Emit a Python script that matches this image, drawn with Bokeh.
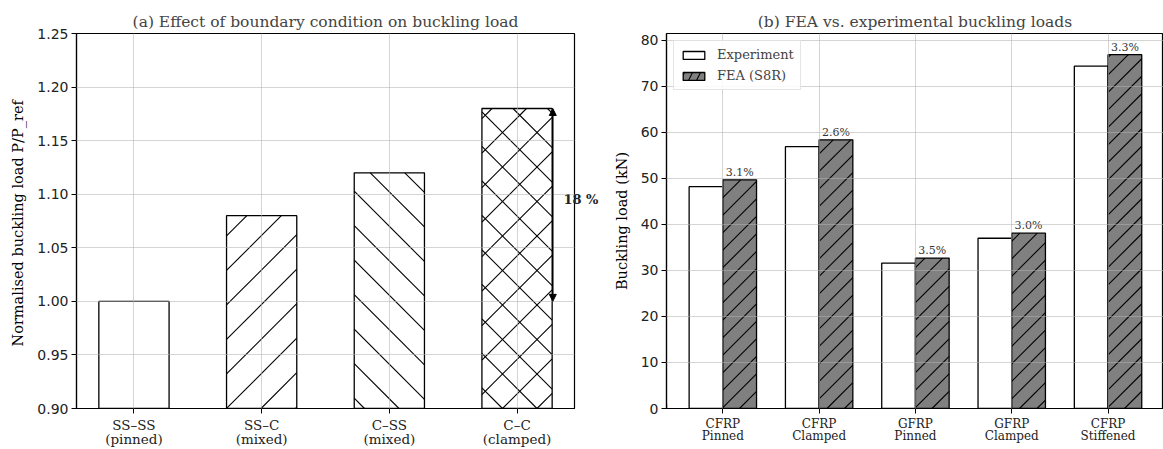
import math
from bokeh.plotting import figure
from bokeh.models import (ColumnDataSource, FixedTicker, Range1d, Arrow, NormalHead,
                          Legend, LegendItem, PrintfTickFormatter, LinearAxis)
from bokeh.layouts import row
from bokeh.embed import file_html
from bokeh.resources import INLINE
from bokeh.core.properties import value

# ---------------- data ----------------
bc_names = ["SS\u2013SS\n(pinned)", "SS\u2013C\n(mixed)", "C\u2013SS\n(mixed)", "C\u2013C\n(clamped)"]
bc_ratio = [1.00, 1.08, 1.12, 1.18]
bc_yticks = [0.90, 0.95, 1.00, 1.05, 1.10, 1.15, 1.20, 1.25]
bc_increase = "18 %"

spec_names = ["CFRP\nPinned", "CFRP\nClamped", "GFRP\nPinned", "GFRP\nClamped", "CFRP\nStiffened"]
exp_kN = [48.2, 56.9, 31.6, 37.0, 74.4]
fea_kN = [49.7, 58.4, 32.7, 38.1, 76.9]
fea_diff = ["3.1%", "2.6%", "3.5%", "3.0%", "3.3%"]
load_yticks = [0, 10, 20, 30, 40, 50, 60, 70, 80]

# ---------------- styles / layout ----------------
SERIF = "DejaVu Serif"
SANS = "DejaVu Sans"
W1, W2, H = 607, 556, 449
BT, BB = 33, 41                      # top / bottom borders
bc_hatch = ["", "/", "\\", "x"]
X1R = (-0.45, 3.45)
Y1R = (0.90, 1.25)
X2R = (-0.585, -0.585 + 497 / 96.3)
Y2R = (0.0, 81.5)


def hatch_lines(xc, w, y0, y1, xr, yr, sx, sy, sp, kind, phase=0.0):
    """45-degree hatch segments (matplotlib-like) clipped to one bar, in data units."""
    out = ([], [], [], [])
    if not kind:
        return out
    X0 = (xc - w / 2 - xr[0]) * sx
    X1 = (xc + w / 2 - xr[0]) * sx
    Y0 = (y0 - yr[0]) * sy
    Y1 = (y1 - yr[0]) * sy
    fams = {"/": [1], "\\": [-1], "x": [1, -1]}[kind]
    for s in fams:
        if s == 1:
            dmin, dmax = X0 - Y1, X1 - Y0
        else:
            dmin, dmax = X0 + Y0, X1 + Y1
        for k in range(math.floor((dmin - phase) / sp), math.ceil((dmax - phase) / sp) + 1):
            d = phase + k * sp
            if s == 1:
                xa, xb = max(X0, d + Y0), min(X1, d + Y1)
                ya, yb = xa - d, xb - d
            else:
                xa, xb = max(X0, d - Y1), min(X1, d - Y0)
                ya, yb = d - xa, d - xb
            if xb - xa > 0.5:
                out[0].append(xa / sx + xr[0])
                out[1].append(ya / sy + yr[0])
                out[2].append(xb / sx + xr[0])
                out[3].append(yb / sy + yr[0])
    return out


def common(p, xfont):
    p.title.text_font = SERIF
    p.title.text_font_size = "15.5px"
    p.title.text_font_style = "normal"
    p.title.align = "center"
    p.title.standoff = 5
    p.outline_line_color = "black"
    p.outline_line_width = 1.2
    for ax in (p.xaxis[0], p.yaxis[0]):
        ax.axis_line_color = "black"
        ax.axis_line_width = 1.2
        ax.major_tick_line_color = "black"
        ax.major_tick_out = 5
        ax.major_tick_in = 0
        ax.minor_tick_line_color = None
        ax.axis_label_text_font = SERIF
        ax.axis_label_text_font_style = "normal"
        ax.axis_label_text_font_size = "14.5px"
        ax.axis_label_text_color = "black"
        ax.axis_label_standoff = 8
    p.xaxis.major_label_text_font = SERIF
    p.xaxis.major_label_text_font_size = xfont
    p.xaxis.major_label_text_color = "#222222"
    p.xaxis.major_label_text_line_height = 0.9
    p.xaxis.major_label_standoff = 3
    p.yaxis.major_label_text_font = SANS
    p.yaxis.major_label_text_font_size = "14px"
    p.yaxis.major_label_text_color = "#222222"
    p.yaxis.major_label_standoff = 3
    p.grid.grid_line_color = "#b0b0b0"
    p.grid.grid_line_alpha = 0.55
    p.grid.grid_line_width = 1
    p.grid.level = "guide"
    p.background_fill_color = "white"
    p.border_fill_color = "white"


# ---------------- (a) ----------------
p1 = figure(width=W1, height=H, x_range=Range1d(*X1R), y_range=Range1d(*Y1R),
            output_backend="svg", toolbar_location=None,
            title="(a) Effect of boundary condition on buckling load",
            min_border_left=76, min_border_right=33, min_border_top=BT, min_border_bottom=BB)
common(p1, "13.5px")
bc_x = list(range(len(bc_names)))
BW1 = 0.55
src1 = ColumnDataSource(dict(x=bc_x, top=bc_ratio))
p1.vbar(x="x", top="top", bottom=Y1R[0], width=BW1, source=src1,
        fill_color="white", line_color=None)
sx1 = (W1 - 76 - 33) / (X1R[1] - X1R[0])
sy1 = (H - BT - BB) / (Y1R[1] - Y1R[0])
hx0, hy0, hx1, hy1 = [], [], [], []
for xc, top, kind in zip(bc_x, bc_ratio, bc_hatch):
    a, b, c, d = hatch_lines(xc, BW1, Y1R[0], top, X1R, Y1R, sx1, sy1, 34.5, kind, phase=12)
    hx0 += a; hy0 += b; hx1 += c; hy1 += d
p1.segment(x0=hx0, y0=hy0, x1=hx1, y1=hy1, line_color="black", line_width=1.1)
p1.vbar(x="x", top="top", bottom=Y1R[0], width=BW1, source=src1,
        fill_color=None, line_color="black", line_width=1.3)
p1.xaxis.ticker = FixedTicker(ticks=bc_x)
p1.xaxis.major_label_overrides = {i: n for i, n in enumerate(bc_names)}
p1.yaxis.ticker = FixedTicker(ticks=bc_yticks)
p1.yaxis.formatter = PrintfTickFormatter(format="%.2f")
p1.yaxis.axis_label = "Normalised buckling load  P/P_ref"

p1.add_layout(Arrow(start=NormalHead(size=7, fill_color="black", line_color="black"),
                    end=NormalHead(size=7, fill_color="black", line_color="black"),
                    x_start=3.28, y_start=bc_ratio[3], x_end=3.28, y_end=bc_ratio[0],
                    line_color="black", line_width=1.5))
# annotation text that overlaps the frame edge (placed via an unobtrusive right axis)
mid = (bc_ratio[3] + bc_ratio[0]) / 2 + 0.005
ann = LinearAxis(ticker=FixedTicker(ticks=[mid]), major_label_overrides={mid: bc_increase},
                 axis_line_color=None, major_tick_line_color=None, minor_tick_line_color=None,
                 major_tick_out=0, major_tick_in=0, major_label_standoff=-11,
                 major_label_text_font=SERIF, major_label_text_font_size="13px",
                 major_label_text_font_style="bold", major_label_text_color="#222222")
p1.add_layout(ann, "right")

# ---------------- (b) ----------------
p2 = figure(width=W2, height=H, x_range=Range1d(*X2R), y_range=Range1d(*Y2R),
            output_backend="svg", toolbar_location=None,
            title="(b) FEA vs. experimental buckling loads",
            min_border_left=59, min_border_right=0, min_border_top=BT, min_border_bottom=BB)
common(p2, "12px")
sx = list(range(len(spec_names)))
BW2 = 0.35
src_e = ColumnDataSource(dict(x=[i - BW2 / 2 for i in sx], top=exp_kN))
src_f = ColumnDataSource(dict(x=[i + BW2 / 2 for i in sx], top=fea_kN, lab=fea_diff))
r_e = p2.vbar(x="x", top="top", bottom=0, width=BW2, source=src_e,
              fill_color="white", line_color="black", line_width=1.3)
p2.vbar(x="x", top="top", bottom=0, width=BW2, source=src_f,
        fill_color="#808080", line_color=None)
sx2 = (W2 - 59) / (X2R[1] - X2R[0])
sy2 = (H - BT - BB) / (Y2R[1] - Y2R[0])
gx0, gy0, gx1, gy1 = [], [], [], []
for xc, top in zip(src_f.data["x"], fea_kN):
    a, b, c, d = hatch_lines(xc, BW2, 0, top, X2R, Y2R, sx2, sy2, 17.5, "/", phase=3)
    gx0 += a; gy0 += b; gx1 += c; gy1 += d
p2.segment(x0=gx0, y0=gy0, x1=gx1, y1=gy1, line_color="black", line_width=1.1)
p2.vbar(x="x", top="top", bottom=0, width=BW2, source=src_f,
        fill_color=None, line_color="black", line_width=1.3)
# legend swatch for the hatched FEA bars (kept outside the visible range)
r_f_key = p2.vbar(x=[-50], top=[1], bottom=0, width=BW2, fill_color="#808080",
                  line_color="black", line_width=1.3, hatch_pattern="/", hatch_color="black",
                  hatch_scale=16, hatch_weight=1.1)
p2.text(x="x", y="top", text="lab", source=src_f, text_align="center", text_baseline="bottom",
        y_offset=-1, text_font=value(SERIF), text_font_size="11px", text_color="#333333")
p2.xaxis.ticker = FixedTicker(ticks=sx)
p2.xaxis.major_label_overrides = {i: n for i, n in enumerate(spec_names)}
p2.yaxis.ticker = FixedTicker(ticks=load_yticks)
p2.yaxis.axis_label = "Buckling load (kN)"

leg = Legend(items=[LegendItem(label="Experiment", renderers=[r_e]),
                    LegendItem(label="FEA (S8R)", renderers=[r_f_key])],
             location="top_left")
leg.label_text_font = SERIF
leg.label_text_font_size = "13px"
leg.glyph_width = 27
leg.glyph_height = 10
leg.spacing = 6
leg.padding = 6
leg.margin = 7
leg.label_standoff = 10
leg.border_line_color = "#cccccc"
leg.border_line_width = 1
leg.background_fill_alpha = 0.85
p2.add_layout(leg)

layout = row(p1, p2)
open("out.html", "w").write(file_html(layout, INLINE))
